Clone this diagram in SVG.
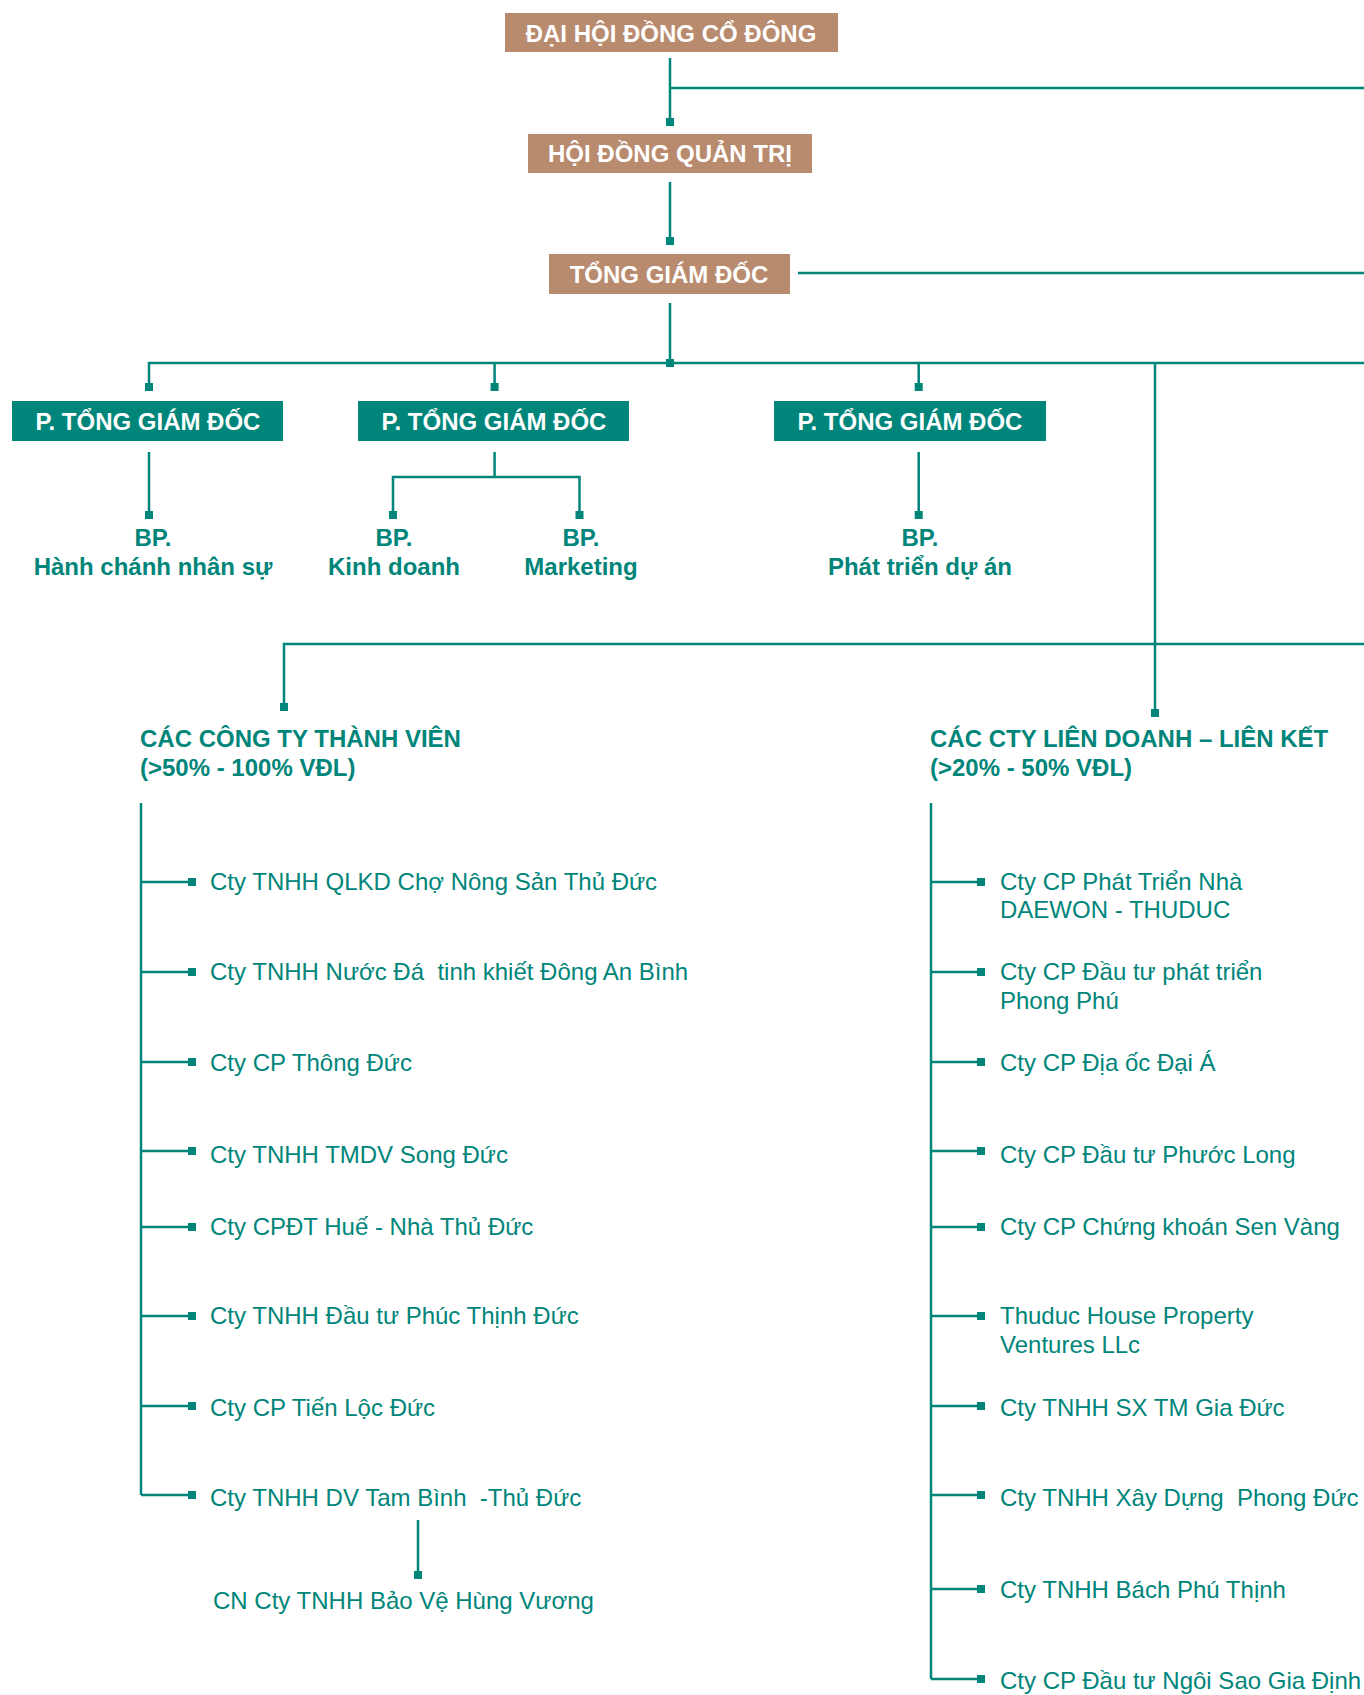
<svg xmlns="http://www.w3.org/2000/svg" width="1364" height="1695" viewBox="0 0 1364 1695">
<style>
.ln{stroke:#00857A;stroke-width:2.5;fill:none}
.sq{fill:#00857A}
.bb{fill:#B98B6E}
.tb{fill:#00857A}
.bt{font-family:"Liberation Sans",Arial,sans-serif;font-weight:bold;font-size:24px;fill:#fff;text-anchor:middle}
.bp{font-family:"Liberation Sans",Arial,sans-serif;font-weight:bold;font-size:24px;fill:#00857A;text-anchor:middle}
.hd{font-family:"Liberation Sans",Arial,sans-serif;font-weight:bold;font-size:24px;fill:#00857A}
.it{font-family:"Liberation Sans",Arial,sans-serif;font-size:24px;fill:#00857A}
</style>
<rect width="1364" height="1695" fill="#fff"/>
<g id="connectors">
<path class="ln" d="M670 58V122M670 88H1364"/>
<path class="ln" d="M670 182V241"/>
<path class="ln" d="M670 303V363M798 273H1364"/>
<path class="ln" d="M149 387V363H1364M494.6 363V387M918.7 363V387M1155 363V713"/>
<path class="ln" d="M149 452V515"/>
<path class="ln" d="M494.6 452V477M393 515V477H579.5V515"/>
<path class="ln" d="M918.7 452V515"/>
<path class="ln" d="M284 707V644H1364"/>
<path class="ln" d="M141 803V1495"/>
<path class="ln" d="M141 882H192M141 972H192M141 1062H192M141 1151H192M141 1227H192M141 1316H192M141 1406H192M141 1495H192"/>
<path class="ln" d="M418 1520V1575"/>
<path class="ln" d="M931 803V1679"/>
<path class="ln" d="M931 882H981M931 972H981M931 1062H981M931 1151H981M931 1227H981M931 1316H981M931 1406H981M931 1495H981M931 1589H981M931 1679H981"/>
<g class="sq">
<rect x="666" y="118" width="8" height="8"/>
<rect x="666" y="237" width="8" height="8"/>
<rect x="666" y="359" width="8" height="8"/>
<rect x="145" y="383" width="8" height="8"/>
<rect x="490.6" y="383" width="8" height="8"/>
<rect x="914.7" y="383" width="8" height="8"/>
<rect x="145" y="511" width="8" height="8"/>
<rect x="389" y="511" width="8" height="8"/>
<rect x="575.5" y="511" width="8" height="8"/>
<rect x="914.7" y="511" width="8" height="8"/>
<rect x="280" y="703" width="8" height="8"/>
<rect x="1151" y="709" width="8" height="8"/>
<rect x="414" y="1571" width="8" height="8"/>
<rect x="188" y="878" width="8" height="8"/>
<rect x="188" y="968" width="8" height="8"/>
<rect x="188" y="1058" width="8" height="8"/>
<rect x="188" y="1147" width="8" height="8"/>
<rect x="188" y="1223" width="8" height="8"/>
<rect x="188" y="1312" width="8" height="8"/>
<rect x="188" y="1402" width="8" height="8"/>
<rect x="188" y="1491" width="8" height="8"/>
<rect x="977" y="878" width="8" height="8"/>
<rect x="977" y="968" width="8" height="8"/>
<rect x="977" y="1058" width="8" height="8"/>
<rect x="977" y="1147" width="8" height="8"/>
<rect x="977" y="1223" width="8" height="8"/>
<rect x="977" y="1312" width="8" height="8"/>
<rect x="977" y="1402" width="8" height="8"/>
<rect x="977" y="1491" width="8" height="8"/>
<rect x="977" y="1585" width="8" height="8"/>
<rect x="977" y="1675" width="8" height="8"/>
</g>
</g>
<g id="dhdcd"><rect class="bb" x="505" y="13" width="333" height="39"/><text class="bt" x="671" y="42">ĐẠI HỘI ĐỒNG CỔ ĐÔNG</text></g>
<g id="hdqt"><rect class="bb" x="528" y="134" width="284" height="39"/><text class="bt" x="670" y="162">HỘI ĐỒNG QUẢN TRỊ</text></g>
<g id="tgd"><rect class="bb" x="549" y="254" width="241" height="40"/><text class="bt" x="669" y="283">TỔNG GIÁM ĐỐC</text></g>
<g id="ptgd1"><rect class="tb" x="12" y="401" width="271" height="40"/><text class="bt" x="148" y="430">P. TỔNG GIÁM ĐỐC</text></g>
<g id="ptgd2"><rect class="tb" x="358" y="401" width="271" height="40"/><text class="bt" x="494" y="430">P. TỔNG GIÁM ĐỐC</text></g>
<g id="ptgd3"><rect class="tb" x="774" y="401" width="272" height="40"/><text class="bt" x="910" y="430">P. TỔNG GIÁM ĐỐC</text></g>
<g id="bp-hcns"><text class="bp" x="153" y="546">BP.</text><text class="bp" x="153" y="575">Hành chánh nhân sự</text></g>
<g id="bp-kd"><text class="bp" x="394" y="546">BP.</text><text class="bp" x="394" y="575">Kinh doanh</text></g>
<g id="bp-mkt"><text class="bp" x="581" y="546">BP.</text><text class="bp" x="581" y="575">Marketing</text></g>
<g id="bp-ptda"><text class="bp" x="920" y="546">BP.</text><text class="bp" x="920" y="575">Phát triển dự án</text></g>
<g id="ctv-header"><text class="hd" x="140" y="747">CÁC CÔNG TY THÀNH VIÊN</text><text class="hd" x="140" y="776">(&gt;50% - 100% VĐL)</text></g>
<g id="ldlk-header"><text class="hd" x="930" y="747">CÁC CTY LIÊN DOANH – LIÊN KẾT</text><text class="hd" x="930" y="776">(&gt;20% - 50% VĐL)</text></g>
<g id="ctv-list">
<text class="it" x="210" y="890">Cty TNHH QLKD Chợ Nông Sản Thủ Đức</text>
<text class="it" x="210" y="980" xml:space="preserve">Cty TNHH Nước Đá  tinh khiết Đông An Bình</text>
<text class="it" x="210" y="1071">Cty CP Thông Đức</text>
<text class="it" x="210" y="1163">Cty TNHH TMDV Song Đức</text>
<text class="it" x="210" y="1235">Cty CPĐT Huế - Nhà Thủ Đức</text>
<text class="it" x="210" y="1324">Cty TNHH Đầu tư Phúc Thịnh Đức</text>
<text class="it" x="210" y="1416">Cty CP Tiến Lộc Đức</text>
<text class="it" x="210" y="1506" xml:space="preserve">Cty TNHH DV Tam Bình  -Thủ Đức</text>
</g>
<g id="cn-hungvuong"><text class="it" x="213" y="1609">CN Cty TNHH Bảo Vệ Hùng Vương</text></g>
<g id="ldlk-list">
<text class="it" x="1000" y="890">Cty CP Phát Triển Nhà</text>
<text class="it" x="1000" y="918">DAEWON - THUDUC</text>
<text class="it" x="1000" y="980">Cty CP Đầu tư phát triển</text>
<text class="it" x="1000" y="1009">Phong Phú</text>
<text class="it" x="1000" y="1071">Cty CP Địa ốc Đại Á</text>
<text class="it" x="1000" y="1163">Cty CP Đầu tư Phước Long</text>
<text class="it" x="1000" y="1235">Cty CP Chứng khoán Sen Vàng</text>
<text class="it" x="1000" y="1324">Thuduc House Property</text>
<text class="it" x="1000" y="1353">Ventures LLc</text>
<text class="it" x="1000" y="1416">Cty TNHH SX TM Gia Đức</text>
<text class="it" x="1000" y="1506" xml:space="preserve">Cty TNHH Xây Dựng  Phong Đức</text>
<text class="it" x="1000" y="1598">Cty TNHH Bách Phú Thịnh</text>
<text class="it" x="1000" y="1689">Cty CP Đầu tư Ngôi Sao Gia Định</text>
</g>
</svg>
